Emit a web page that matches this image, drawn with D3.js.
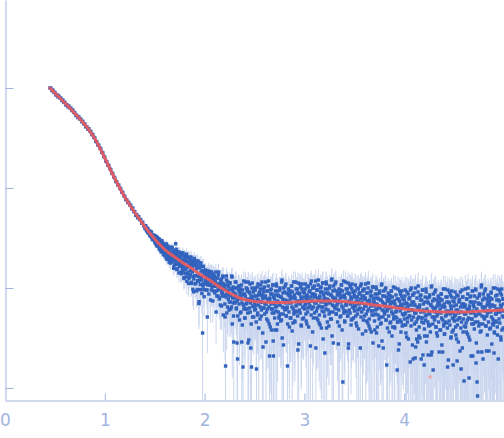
<!DOCTYPE html>
<html><head><meta charset="utf-8">
<script src="https://cdn.jsdelivr.net/npm/d3@7"></script>
<style>html,body{margin:0;padding:0;background:#fff;overflow:hidden}</style>
</head><body><svg id="chart" width="504" height="438"></svg>
<script>
const xTickValues = [0, 1, 2, 3, 4];
const yTickValues = [0, -1, -2, -3];

// scattering vector q (nm^-1), main frame
const q = [
0.45,0.46,0.47,0.48,0.49,0.50,0.51,0.52,0.53,0.54,
0.55,0.56,0.57,0.58,0.59,0.60,0.61,0.62,0.63,0.64,
0.65,0.66,0.67,0.68,0.69,0.70,0.71,0.72,0.73,0.74,
0.75,0.76,0.77,0.78,0.79,0.80,0.81,0.82,0.83,0.84,
0.85,0.86,0.87,0.88,0.89,0.90,0.91,0.92,0.93,0.94,
0.95,0.96,0.97,0.98,0.99,1.00,1.01,1.02,1.03,1.04,
1.05,1.06,1.07,1.08,1.09,1.10,1.11,1.12,1.13,1.14,
1.15,1.16,1.17,1.18,1.19,1.20,1.21,1.22,1.23,1.24,
1.25,1.26,1.27,1.28,1.29,1.30,1.31,1.32,1.33,1.34,
1.35,1.36,1.37,1.38,1.39,
1.400,1.405,1.410,1.415,1.420,1.425,1.430,1.435,1.440,1.445,
1.450,1.455,1.460,1.465,1.470,1.475,1.480,1.485,1.490,1.495,
1.500,1.505,1.510,1.515,1.520,1.525,1.530,1.535,1.540,1.545,
1.550,1.555,1.560,1.565,1.570,1.575,1.580,1.585,1.590,1.595,
1.600,1.605,1.610,1.615,1.620,1.625,1.630,1.635,1.640,1.645,
1.650,1.655,1.660,1.665,1.670,1.675,1.680,1.685,1.690,1.695,
1.700,1.705,1.710,1.715,1.720,1.725,1.730,1.735,1.740,1.745,
1.750,1.755,1.760,1.765,1.770,1.775,1.780,1.785,1.790,1.795,
1.800,1.805,1.810,1.815,1.820,1.825,1.830,1.835,1.840,1.845,
1.850,1.855,1.860,1.865,1.870,1.875,1.880,1.885,1.890,1.895,
1.900,1.905,1.910,1.915,1.920,1.925,1.930,1.935,1.940,1.945,
1.950,1.955,1.960,1.965,1.970,1.975,1.980,1.985,1.990,1.995,
2.000,2.005,2.010,2.015,2.020,2.025,2.030,2.035,2.040,2.045,
2.050,2.055,2.060,2.065,2.070,2.075,2.080,2.085,2.090,2.095,
2.100,2.105,2.110,2.115,2.120,2.125,2.130,2.135,2.140,2.145,
2.150,2.155,2.160,2.165,2.170,2.175,2.180,2.185,2.190,2.195,
2.200,2.205,2.210,2.215,2.220,2.225,2.230,2.235,2.240,2.245,
2.250,2.255,2.260,2.265,2.270,2.275,2.280,2.285,2.290,2.295,
2.300,2.305,2.310,2.315,2.320,2.325,2.330,2.335,2.340,2.345,
2.350,2.355,2.360,2.365,2.370,2.375,2.380,2.385,2.390,2.395,
2.400,2.405,2.410,2.415,2.420,2.425,2.430,2.435,2.440,2.445,
2.450,2.455,2.460,2.465,2.470,2.475,2.480,2.485,2.490,2.495,
2.500,2.505,2.510,2.515,2.520,2.525,2.530,2.535,2.540,2.545,
2.550,2.555,2.560,2.565,2.570,2.575,2.580,2.585,2.590,2.595,
2.600,2.605,2.610,2.615,2.620,2.625,2.630,2.635,2.640,2.645,
2.650,2.655,2.660,2.665,2.670,2.675,2.680,2.685,2.690,2.695,
2.700,2.705,2.710,2.715,2.720,2.725,2.730,2.735,2.740,2.745,
2.750,2.755,2.760,2.765,2.770,2.775,2.780,2.785,2.790,2.795,
2.800,2.805,2.810,2.815,2.820,2.825,2.830,2.835,2.840,2.845,
2.850,2.855,2.860,2.865,2.870,2.875,2.880,2.885,2.890,2.895,
2.900,2.905,2.910,2.915,2.920,2.925,2.930,2.935,2.940,2.945,
2.950,2.955,2.960,2.965,2.970,2.975,2.980,2.985,2.990,2.995,
3.000,3.005,3.010,3.015,3.020,3.025,3.030,3.035,3.040,3.045,
3.050,3.055,3.060,3.065,3.070,3.075,3.080,3.085,3.090,3.095,
3.100,3.105,3.110,3.115,3.120,3.125,3.130,3.135,3.140,3.145,
3.150,3.155,3.160,3.165,3.170,3.175,3.180,3.185,3.190,3.195,
3.200,3.205,3.210,3.215,3.220,3.225,3.230,3.235,3.240,3.245,
3.250,3.255,3.260,3.265,3.270,3.275,3.280,3.285,3.290,3.295,
3.300,3.305,3.310,3.315,3.320,3.325,3.330,3.335,3.340,3.345,
3.350,3.355,3.360,3.365,3.370,3.375,3.380,3.385,3.390,3.395,
3.400,3.405,3.410,3.415,3.420,3.425,3.430,3.435,3.440,3.445,
3.450,3.455,3.460,3.465,3.470,3.475,3.480,3.485,3.490,3.495,
3.500,3.505,3.510,3.515,3.520,3.525,3.530,3.535,3.540,3.545,
3.550,3.555,3.560,3.565,3.570,3.575,3.580,3.585,3.590,3.595,
3.600,3.605,3.610,3.615,3.620,3.625,3.630,3.635,3.640,3.645,
3.650,3.655,3.660,3.665,3.670,3.675,3.680,3.685,3.690,3.695,
3.700,3.705,3.710,3.715,3.720,3.725,3.730,3.735,3.740,3.745,
3.750,3.755,3.760,3.765,3.770,3.775,3.780,3.785,3.790,3.795,
3.800,3.805,3.810,3.815,3.820,3.825,3.830,3.835,3.840,3.845,
3.850,3.855,3.860,3.865,3.870,3.875,3.880,3.885,3.890,3.895,
3.900,3.905,3.910,3.915,3.920,3.925,3.930,3.935,3.940,3.945,
3.950,3.955,3.960,3.965,3.970,3.975,3.980,3.985,3.990,3.995,
4.000,4.005,4.010,4.015,4.020,4.025,4.030,4.035,4.040,4.045,
4.050,4.055,4.060,4.065,4.070,4.075,4.080,4.085,4.090,4.095,
4.100,4.105,4.110,4.115,4.120,4.125,4.130,4.135,4.140,4.145,
4.150,4.155,4.160,4.165,4.170,4.175,4.180,4.185,4.190,4.195,
4.200,4.205,4.210,4.215,4.220,4.225,4.230,4.235,4.240,4.245,
4.250,4.255,4.260,4.265,4.270,4.275,4.280,4.285,4.290,4.295,
4.300,4.305,4.310,4.315,4.320,4.325,4.330,4.335,4.340,4.345,
4.350,4.355,4.360,4.365,4.370,4.375,4.380,4.385,4.390,4.395,
4.400,4.405,4.410,4.415,4.420,4.425,4.430,4.435,4.440,4.445,
4.450,4.455,4.460,4.465,4.470,4.475,4.480,4.485,4.490,4.495,
4.500,4.505,4.510,4.515,4.520,4.525,4.530,4.535,4.540,4.545,
4.550,4.555,4.560,4.565,4.570,4.575,4.580,4.585,4.590,4.595,
4.600,4.605,4.610,4.615,4.620,4.625,4.630,4.635,4.640,4.645,
4.650,4.655,4.660,4.665,4.670,4.675,4.680,4.685,4.690,4.695,
4.700,4.705,4.710,4.715,4.720,4.725,4.730,4.735,4.740,4.745,
4.750,4.755,4.760,4.765,4.770,4.775,4.780,4.785,4.790,4.795,
4.800,4.805,4.810,4.815,4.820,4.825,4.830,4.835,4.840,4.845,
4.850,4.855,4.860,4.865,4.870,4.875,4.880,4.885,4.890,4.895,
4.900,4.905,4.910,4.915,4.920,4.925,4.930,4.935,4.940,4.945,
4.950,4.955,4.960,4.965,4.970,4.975,4.980,4.985,4.990,4.995
];

// log10 of the scattered intensity I(q), main frame
const logI = [
0.000,-0.002,-0.026,-0.020,-0.044,-0.044,-0.070,-0.066,-0.088,-0.080,
-0.100,-0.102,-0.126,-0.120,-0.144,-0.144,-0.170,-0.166,-0.188,-0.180,
-0.200,-0.202,-0.226,-0.220,-0.244,-0.249,-0.276,-0.273,-0.296,-0.289,
-0.310,-0.313,-0.338,-0.333,-0.358,-0.359,-0.388,-0.387,-0.412,-0.407,
-0.430,-0.437,-0.466,-0.465,-0.494,-0.499,-0.534,-0.539,-0.570,-0.571,
-0.600,-0.608,-0.643,-0.648,-0.683,-0.694,-0.731,-0.738,-0.771,-0.774,
-0.805,-0.817,-0.851,-0.855,-0.889,-0.899,-0.934,-0.939,-0.970,-0.971,
-1.000,-1.010,-1.042,-1.044,-1.076,-1.084,-1.116,-1.118,-1.146,-1.144,
-1.170,-1.173,-1.209,-1.200,-1.236,-1.236,-1.274,-1.267,-1.299,-1.286,
-1.315,-1.317,-1.352,-1.342,-1.377,
-1.375,-1.407,-1.378,-1.405,-1.421,-1.403,-1.444,-1.426,-1.427,-1.454,
-1.470,-1.446,-1.437,-1.478,-1.469,-1.510,-1.471,-1.492,-1.513,-1.474,
-1.480,-1.536,-1.521,-1.567,-1.512,-1.493,-1.553,-1.579,-1.539,-1.610,
-1.595,-1.530,-1.565,-1.640,-1.565,-1.610,-1.545,-1.600,-1.645,-1.580,
-1.565,-1.659,-1.603,-1.697,-1.631,-1.605,-1.689,-1.583,-1.667,-1.741,
-1.685,-1.599,-1.742,-1.646,-1.679,-1.603,-1.726,-1.650,-1.803,-1.677,
-1.650,-1.764,-1.557,-1.731,-1.654,-1.808,-1.691,-1.765,-1.638,-1.742,
-1.785,-1.699,-1.842,-1.666,-1.739,-1.783,-1.656,-1.830,-1.733,-1.897,
-1.680,-1.813,-1.736,-1.889,-1.672,-1.795,-1.858,-1.731,-1.954,-1.767,
-1.890,-1.724,-1.827,-1.691,-1.954,-1.788,-1.751,-1.885,-2.038,-1.732,
-1.775,-1.959,-1.732,-1.876,-2.029,-1.763,-1.926,-1.730,-1.883,-2.137,
-1.920,-1.753,-2.016,-1.829,-1.892,-1.785,-2.450,-1.981,-1.824,-2.087,
-1.86,-1.92,-1.82,-1.96,-1.89,-2.02,-1.87,-1.94,-1.83,-1.91,
-1.97,-1.88,-2.12,-1.92,-1.84,-1.99,-1.94,-1.87,-2.03,-1.91,
-1.88,-1.98,-1.94,-2.24,-2.03,-1.90,-1.96,-2.08,-1.84,-2.00,
-2.10,-1.97,-1.92,-2.02,-2.18,-1.95,-2.05,-1.89,-1.99,-2.08,
-2.01,-2.29,-2.78,-2.09,-1.92,-2.06,-2.19,-1.98,-2.03,-2.22,
-2.07,-1.95,-2.14,-2.01,-2.19,-1.89,-2.10,-1.99,-2.28,-2.05,
-2.00,-2.15,-2.09,-1.94,-2.20,-2.55,-2.71,-2.11,-1.98,-2.16,
-2.32,-2.04,-2.08,-2.24,-1.97,-2.15,-2.02,-2.79,-2.07,-2.21,
-2.06,-2.30,-1.94,-2.16,-2.11,-2.21,-2.01,-2.55,-2.13,-2.04,
-2.20,-1.96,-2.15,-2.08,-2.79,-2.00,-2.29,-2.12,-2.04,-2.19,
-2.15,-2.00,-2.21,-2.08,-2.81,-2.12,-2.27,-1.96,-2.17,-2.06,
-2.07,-2.31,-2.01,-2.14,-2.22,-1.94,-2.10,-2.59,-2.04,-2.20,
-1.99,-2.16,-2.08,-2.54,-2.24,-2.03,-2.11,-2.33,-1.93,-2.19,
-2.68,-2.10,-2.02,-2.16,-2.42,-2.06,-2.21,-1.97,-2.68,-2.25,
-2.11,-2.42,-2.03,-2.23,-1.98,-2.18,-2.36,-2.07,-2.14,-2.30,
-2.16,-2.00,-2.26,-2.09,-2.32,-1.92,-2.19,-2.05,-2.57,-2.13,
-2.04,-2.22,-2.15,-1.96,-2.28,-2.21,-2.78,-2.13,-2.01,-2.24,
-2.39,-2.06,-2.11,-2.30,-1.98,-2.19,-2.04,-2.35,-2.10,-2.26,
-2.07,-2.34,-1.94,-2.18,-2.13,-2.24,-2.01,-2.62,-2.15,-2.05,
-2.22,-1.96,-2.16,-2.09,-2.38,-2.01,-2.31,-2.13,-2.04,-2.20,
-2.05,-2.17,-1.96,-2.26,-2.11,-2.36,-2.08,-2.20,-1.99,-2.15,
-2.19,-2.03,-2.58,-2.09,-1.93,-2.21,-2.13,-2.00,-2.30,-2.06,
-1.98,-2.15,-2.07,-2.60,-2.23,-2.02,-2.10,-2.32,-1.92,-2.18,
-2.27,-2.08,-2.00,-2.14,-2.40,-2.04,-2.19,-1.95,-2.12,-2.24,
-2.10,-2.65,-2.01,-2.21,-1.96,-2.16,-2.34,-2.05,-2.12,-2.38,
-2.14,-1.98,-2.24,-2.07,-2.31,-1.91,-2.17,-2.03,-2.55,-2.11,
-2.02,-2.20,-2.13,-1.94,-2.26,-2.21,-2.07,-2.15,-2.56,-2.22,
-2.38,-2.05,-2.10,-2.28,-1.97,-2.18,-2.03,-2.94,-2.09,-2.25,
-2.07,-2.34,-1.94,-2.17,-2.15,-2.24,-2.01,-2.28,-2.60,-2.05,
-2.22,-1.97,-2.16,-2.09,-2.32,-2.01,-2.31,-2.15,-2.04,-2.20,
-2.07,-2.18,-1.97,-2.28,-2.13,-2.38,-2.09,-2.22,-2.01,-2.16,
-2.21,-2.05,-2.60,-2.11,-1.96,-2.24,-2.15,-2.03,-2.32,-2.08,
-2.01,-2.18,-2.10,-2.43,-2.26,-2.05,-2.13,-2.35,-1.95,-2.21,
-2.31,-2.12,-2.04,-2.18,-2.44,-2.08,-2.23,-1.99,-2.15,-2.27,
-2.14,-2.42,-2.06,-2.26,-2.01,-2.21,-2.39,-2.10,-2.19,-2.58,
-2.19,-2.03,-2.29,-2.12,-2.35,-1.96,-2.22,-2.08,-2.60,-2.16,
-2.08,-2.26,-2.19,-2.00,-2.32,-2.77,-2.13,-2.21,-2.05,-2.28,
-2.44,-2.11,-2.16,-2.34,-2.03,-2.24,-2.09,-2.39,-2.15,-2.31,
-2.13,-2.40,-2.00,-2.24,-2.19,-2.30,-2.82,-2.34,-2.19,-2.11,
-2.56,-2.03,-2.23,-2.16,-2.34,-2.08,-2.38,-2.20,-2.11,-2.27,
-2.12,-2.26,-2.02,-2.37,-2.20,-2.49,-2.16,-2.30,-2.06,-2.23,
-2.28,-2.10,-2.74,-2.17,-2.00,-2.32,-2.22,-2.07,-2.71,-2.14,
-2.05,-2.25,-2.70,-2.59,-2.34,-2.51,-2.19,-2.54,-1.98,-2.29,
-2.39,-2.17,-2.08,-2.24,-2.71,-2.12,-2.30,-2.02,-2.22,-2.35,
-2.77,-2.48,-2.09,-2.32,-2.04,-2.27,-2.48,-2.14,-2.67,-2.37,
-2.25,-2.07,-2.37,-2.17,-2.67,-1.98,-2.29,-2.13,-2.82,-2.22,
-2.11,-2.32,-2.24,-2.02,-2.39,-2.45,-2.18,-2.26,-2.08,-2.34,
-2.64,-2.14,-2.21,-2.42,-2.06,-2.30,-2.12,-2.64,-2.19,-2.38,
-2.16,-2.46,-2.01,-2.28,-2.23,-2.35,-2.09,-2.79,-2.25,-2.14,
-2.33,-2.04,-2.26,-2.18,-2.49,-2.09,-2.44,-2.25,-2.77,-2.31,
-2.14,-2.28,-2.04,-2.39,-2.22,-2.51,-2.73,-2.32,-2.08,-2.25,
-2.30,-2.12,-2.63,-2.19,-2.81,-2.34,-2.02,-2.09,-2.44,-2.16,
-2.93,-2.26,-2.17,-2.39,-2.35,-2.11,-2.21,-2.46,-2.00,-2.30,
-2.90,-2.18,-2.09,-2.25,-2.68,-2.14,-2.31,-2.03,-2.23,-2.36,
-2.19,-2.08,-2.34,-2.01,-2.75,-2.27,-2.94,-3.08,-2.64,-2.16,
-2.25,-2.06,-2.36,-2.16,-2.43,-1.97,-2.28,-2.12,-2.71,-2.21,
-2.10,-2.31,-2.23,-2.01,-2.38,-2.63,-2.17,-2.25,-2.07,-2.34,
-2.63,-2.13,-2.19,-2.40,-2.05,-2.29,-2.11,-2.36,-2.18,-2.37,
-2.65,-2.45,-2.00,-2.26,-2.21,-2.34,-2.07,-2.47,-2.24,-2.12,
-2.31,-2.02,-2.24,-2.17,-2.52,-2.07,-2.42,-2.23,-2.11,-2.29
];

// experimental error sigma(I), in units of 1e-3, main frame
const sigma = [
2.0,2.1,2.0,1.9,2.0,2.1,1.9,2.0,2.0,1.9,
1.9,2.0,1.9,1.8,1.9,2.0,1.8,1.9,1.9,1.8,
1.8,1.9,1.8,1.7,1.8,1.9,1.7,1.8,1.8,1.7,
1.7,1.8,1.7,1.6,1.7,1.8,1.6,1.7,1.7,1.6,
1.6,1.7,1.6,1.5,1.6,1.7,1.5,1.6,1.6,1.5,
1.5,1.6,1.5,1.4,1.5,1.6,1.4,1.5,1.5,1.4,
1.4,1.5,1.4,1.3,1.4,1.5,1.3,1.4,1.4,1.3,
1.3,1.4,1.3,1.2,1.3,1.4,1.2,1.3,1.3,1.2,
1.2,1.3,1.2,1.1,1.2,1.3,1.1,1.2,1.2,1.1,
1.2,1.3,1.2,1.1,1.2,
1.3,1.4,1.3,1.4,1.5,1.4,1.5,1.4,1.5,1.6,
1.5,1.6,1.5,1.7,1.6,1.7,1.6,1.8,1.7,1.8,
1.7,1.8,1.9,1.8,1.9,2.0,1.9,2.0,1.9,2.1,
2.0,2.1,2.0,2.2,2.1,2.2,2.1,2.3,2.2,2.3,
2.2,2.3,2.4,2.3,2.4,2.3,2.5,2.4,2.5,2.4,
2.5,2.4,2.6,2.5,2.6,2.5,2.7,2.6,2.5,2.7,
2.6,2.7,2.6,2.8,2.7,2.6,2.8,2.7,2.9,2.8,
2.7,2.8,2.9,2.8,2.7,2.9,2.8,3.0,2.9,2.8,
2.9,2.8,3.0,2.9,2.8,3.0,2.9,3.1,3.0,2.9,
3.0,2.9,3.1,3.0,2.9,3.1,3.0,2.9,3.1,3.0,
3.1,3.0,2.9,3.1,3.0,3.2,3.1,3.0,3.2,3.1,
3.0,3.2,3.1,3.0,3.2,3.1,3.3,3.2,3.1,3.0,
2.9,3.1,2.8,3.0,2.7,3.2,2.9,2.8,3.1,2.7,
3.0,2.7,3.1,2.9,2.8,3.0,2.6,3.1,2.9,3.0,
2.9,3.1,2.8,3.0,2.7,3.2,2.9,2.8,3.1,2.7,
3.0,2.7,3.1,2.9,2.8,3.0,2.6,3.1,2.9,3.0,
3.0,3.2,2.9,3.1,2.8,3.3,3.0,2.9,3.2,2.8,
3.1,2.8,3.2,3.0,2.9,3.1,2.7,3.2,3.0,3.1,
3.0,3.2,2.9,3.1,2.8,3.3,3.0,2.9,3.2,2.8,
3.1,2.8,3.2,3.0,2.9,3.1,2.7,3.2,3.0,3.1,
3.1,3.3,3.0,3.2,2.9,3.4,3.1,3.0,3.3,2.9,
3.2,2.9,3.3,3.1,3.0,3.2,2.8,3.3,3.1,3.2,
3.2,3.4,3.1,3.3,3.0,3.5,3.2,3.1,3.4,3.0,
3.3,3.0,3.4,3.2,3.1,3.3,2.9,3.4,3.2,3.3,
3.2,3.4,3.1,3.3,3.0,3.5,3.2,3.1,3.4,3.0,
3.3,3.0,3.4,3.2,3.1,3.3,2.9,3.4,3.2,3.3,
3.2,3.4,3.1,3.3,3.0,3.5,3.2,3.1,3.4,3.0,
3.3,3.0,3.4,3.2,3.1,3.3,2.9,3.4,3.2,3.3,
3.2,3.4,3.1,3.3,3.0,3.5,3.2,3.1,3.4,3.0,
3.3,3.0,3.4,3.2,3.1,3.3,2.9,3.4,3.2,3.3,
3.2,3.4,3.1,3.3,3.0,3.5,3.2,3.1,3.4,3.0,
3.3,3.0,3.4,3.2,3.1,3.3,2.9,3.4,3.2,3.3,
3.3,3.5,3.2,3.4,3.1,3.6,3.3,3.2,3.5,3.1,
3.4,3.1,3.5,3.3,3.2,3.4,3.0,3.5,3.3,3.4,
3.3,3.5,3.2,3.4,3.1,3.6,3.3,3.2,3.5,3.1,
3.4,3.1,3.5,3.3,3.2,3.4,3.0,3.5,3.3,3.4,
3.3,3.5,3.2,3.4,3.1,3.6,3.3,3.2,3.5,3.1,
3.4,3.1,3.5,3.3,3.2,3.4,3.0,3.5,3.3,3.4,
3.3,3.5,3.2,3.4,3.1,3.6,3.3,3.2,3.5,3.1,
3.4,3.1,3.5,3.3,3.2,3.4,3.0,3.5,3.3,3.4,
3.3,3.5,3.2,3.4,3.1,3.6,3.3,3.2,3.5,3.1,
3.4,3.1,3.5,3.3,3.2,3.4,3.0,3.5,3.3,3.4,
3.4,3.6,3.3,3.5,3.2,3.7,3.4,3.3,3.6,3.2,
3.5,3.2,3.6,3.4,3.3,3.5,3.1,3.6,3.4,3.5,
3.4,3.6,3.3,3.5,3.2,3.7,3.4,3.3,3.6,3.2,
3.5,3.2,3.6,3.4,3.3,3.5,3.1,3.6,3.4,3.5,
3.4,3.6,3.3,3.5,3.2,3.7,3.4,3.3,3.6,3.2,
3.5,3.2,3.6,3.4,3.3,3.5,3.1,3.6,3.4,3.5,
3.4,3.6,3.3,3.5,3.2,3.7,3.4,3.3,3.6,3.2,
3.5,3.2,3.6,3.4,3.3,3.5,3.1,3.6,3.4,3.5,
3.4,3.6,3.3,3.5,3.2,3.7,3.4,3.3,3.6,3.2,
3.5,3.2,3.6,3.4,3.3,3.5,3.1,3.6,3.4,3.5,
3.6,3.8,3.5,3.7,3.4,3.9,3.6,3.5,3.8,3.4,
3.7,3.4,3.8,3.6,3.5,3.7,3.3,3.8,3.6,3.7,
3.6,3.8,3.5,3.7,3.4,3.9,3.6,3.5,3.8,3.4,
3.7,3.4,3.8,3.6,3.5,3.7,3.3,3.8,3.6,3.7,
3.6,3.8,3.5,3.7,3.4,3.9,3.6,3.5,3.8,3.4,
3.7,3.4,3.8,3.6,3.5,3.7,3.3,3.8,3.6,3.7,
3.6,3.8,3.5,3.7,3.4,3.9,3.6,3.5,3.8,3.4,
3.7,3.4,3.8,3.6,3.5,3.7,3.3,3.8,3.6,3.7,
3.6,3.8,3.5,3.7,3.4,3.9,3.6,3.5,3.8,3.4,
3.7,3.4,3.8,3.6,3.5,3.7,3.3,3.8,3.6,3.7,
3.8,4.0,3.7,3.9,3.6,4.1,3.8,3.7,4.0,3.6,
3.9,3.6,4.0,3.8,3.7,3.9,3.5,4.0,3.8,3.9,
3.8,4.0,3.7,3.9,3.6,4.1,3.8,3.7,4.0,3.6,
3.9,3.6,4.0,3.8,3.7,3.9,3.5,4.0,3.8,3.9,
3.8,4.0,3.7,3.9,3.6,4.1,3.8,3.7,4.0,3.6,
3.9,3.6,4.0,3.8,3.7,3.9,3.5,4.0,3.8,3.9,
3.8,4.0,3.7,3.9,3.6,4.1,3.8,3.7,4.0,3.6,
3.9,3.6,4.0,3.8,3.7,3.9,3.5,4.0,3.8,3.9,
3.8,4.0,3.7,3.9,3.6,4.1,3.8,3.7,4.0,3.6,
3.9,3.6,4.0,3.8,3.7,3.9,3.5,4.0,3.8,3.9
];

// interleaved frame (q between the main-frame samples, q >= 1.4)
const q2 = [
1.4025,1.4075,1.4125,1.4175,1.4225,1.4275,1.4325,1.4375,1.4425,1.4475,
1.4525,1.4575,1.4625,1.4675,1.4725,1.4775,1.4825,1.4875,1.4925,1.4975,
1.5025,1.5075,1.5125,1.5175,1.5225,1.5275,1.5325,1.5375,1.5425,1.5475,
1.5525,1.5575,1.5625,1.5675,1.5725,1.5775,1.5825,1.5875,1.5925,1.5975,
1.6025,1.6075,1.6125,1.6175,1.6225,1.6275,1.6325,1.6375,1.6425,1.6475,
1.6525,1.6575,1.6625,1.6675,1.6725,1.6775,1.6825,1.6875,1.6925,1.6975,
1.7025,1.7075,1.7125,1.7175,1.7225,1.7275,1.7325,1.7375,1.7425,1.7475,
1.7525,1.7575,1.7625,1.7675,1.7725,1.7775,1.7825,1.7875,1.7925,1.7975,
1.8025,1.8075,1.8125,1.8175,1.8225,1.8275,1.8325,1.8375,1.8425,1.8475,
1.8525,1.8575,1.8625,1.8675,1.8725,1.8775,1.8825,1.8875,1.8925,1.8975,
1.9025,1.9075,1.9125,1.9175,1.9225,1.9275,1.9325,1.9375,1.9425,1.9475,
1.9525,1.9575,1.9625,1.9675,1.9725,1.9775,1.9825,1.9875,1.9925,1.9975,
2.0025,2.0075,2.0125,2.0175,2.0225,2.0275,2.0325,2.0375,2.0425,2.0475,
2.0525,2.0575,2.0625,2.0675,2.0725,2.0775,2.0825,2.0875,2.0925,2.0975,
2.1025,2.1075,2.1125,2.1175,2.1225,2.1275,2.1325,2.1375,2.1425,2.1475,
2.1525,2.1575,2.1625,2.1675,2.1725,2.1775,2.1825,2.1875,2.1925,2.1975,
2.2025,2.2075,2.2125,2.2175,2.2225,2.2275,2.2325,2.2375,2.2425,2.2475,
2.2525,2.2575,2.2625,2.2675,2.2725,2.2775,2.2825,2.2875,2.2925,2.2975,
2.3025,2.3075,2.3125,2.3175,2.3225,2.3275,2.3325,2.3375,2.3425,2.3475,
2.3525,2.3575,2.3625,2.3675,2.3725,2.3775,2.3825,2.3875,2.3925,2.3975,
2.4025,2.4075,2.4125,2.4175,2.4225,2.4275,2.4325,2.4375,2.4425,2.4475,
2.4525,2.4575,2.4625,2.4675,2.4725,2.4775,2.4825,2.4875,2.4925,2.4975,
2.5025,2.5075,2.5125,2.5175,2.5225,2.5275,2.5325,2.5375,2.5425,2.5475,
2.5525,2.5575,2.5625,2.5675,2.5725,2.5775,2.5825,2.5875,2.5925,2.5975,
2.6025,2.6075,2.6125,2.6175,2.6225,2.6275,2.6325,2.6375,2.6425,2.6475,
2.6525,2.6575,2.6625,2.6675,2.6725,2.6775,2.6825,2.6875,2.6925,2.6975,
2.7025,2.7075,2.7125,2.7175,2.7225,2.7275,2.7325,2.7375,2.7425,2.7475,
2.7525,2.7575,2.7625,2.7675,2.7725,2.7775,2.7825,2.7875,2.7925,2.7975,
2.8025,2.8075,2.8125,2.8175,2.8225,2.8275,2.8325,2.8375,2.8425,2.8475,
2.8525,2.8575,2.8625,2.8675,2.8725,2.8775,2.8825,2.8875,2.8925,2.8975,
2.9025,2.9075,2.9125,2.9175,2.9225,2.9275,2.9325,2.9375,2.9425,2.9475,
2.9525,2.9575,2.9625,2.9675,2.9725,2.9775,2.9825,2.9875,2.9925,2.9975,
3.0025,3.0075,3.0125,3.0175,3.0225,3.0275,3.0325,3.0375,3.0425,3.0475,
3.0525,3.0575,3.0625,3.0675,3.0725,3.0775,3.0825,3.0875,3.0925,3.0975,
3.1025,3.1075,3.1125,3.1175,3.1225,3.1275,3.1325,3.1375,3.1425,3.1475,
3.1525,3.1575,3.1625,3.1675,3.1725,3.1775,3.1825,3.1875,3.1925,3.1975,
3.2025,3.2075,3.2125,3.2175,3.2225,3.2275,3.2325,3.2375,3.2425,3.2475,
3.2525,3.2575,3.2625,3.2675,3.2725,3.2775,3.2825,3.2875,3.2925,3.2975,
3.3025,3.3075,3.3125,3.3175,3.3225,3.3275,3.3325,3.3375,3.3425,3.3475,
3.3525,3.3575,3.3625,3.3675,3.3725,3.3775,3.3825,3.3875,3.3925,3.3975,
3.4025,3.4075,3.4125,3.4175,3.4225,3.4275,3.4325,3.4375,3.4425,3.4475,
3.4525,3.4575,3.4625,3.4675,3.4725,3.4775,3.4825,3.4875,3.4925,3.4975,
3.5025,3.5075,3.5125,3.5175,3.5225,3.5275,3.5325,3.5375,3.5425,3.5475,
3.5525,3.5575,3.5625,3.5675,3.5725,3.5775,3.5825,3.5875,3.5925,3.5975,
3.6025,3.6075,3.6125,3.6175,3.6225,3.6275,3.6325,3.6375,3.6425,3.6475,
3.6525,3.6575,3.6625,3.6675,3.6725,3.6775,3.6825,3.6875,3.6925,3.6975,
3.7025,3.7075,3.7125,3.7175,3.7225,3.7275,3.7325,3.7375,3.7425,3.7475,
3.7525,3.7575,3.7625,3.7675,3.7725,3.7775,3.7825,3.7875,3.7925,3.7975,
3.8025,3.8075,3.8125,3.8175,3.8225,3.8275,3.8325,3.8375,3.8425,3.8475,
3.8525,3.8575,3.8625,3.8675,3.8725,3.8775,3.8825,3.8875,3.8925,3.8975,
3.9025,3.9075,3.9125,3.9175,3.9225,3.9275,3.9325,3.9375,3.9425,3.9475,
3.9525,3.9575,3.9625,3.9675,3.9725,3.9775,3.9825,3.9875,3.9925,3.9975,
4.0025,4.0075,4.0125,4.0175,4.0225,4.0275,4.0325,4.0375,4.0425,4.0475,
4.0525,4.0575,4.0625,4.0675,4.0725,4.0775,4.0825,4.0875,4.0925,4.0975,
4.1025,4.1075,4.1125,4.1175,4.1225,4.1275,4.1325,4.1375,4.1425,4.1475,
4.1525,4.1575,4.1625,4.1675,4.1725,4.1775,4.1825,4.1875,4.1925,4.1975,
4.2025,4.2075,4.2125,4.2175,4.2225,4.2275,4.2325,4.2375,4.2425,4.2475,
4.2525,4.2575,4.2625,4.2675,4.2725,4.2775,4.2825,4.2875,4.2925,4.2975,
4.3025,4.3075,4.3125,4.3175,4.3225,4.3275,4.3325,4.3375,4.3425,4.3475,
4.3525,4.3575,4.3625,4.3675,4.3725,4.3775,4.3825,4.3875,4.3925,4.3975,
4.4025,4.4075,4.4125,4.4175,4.4225,4.4275,4.4325,4.4375,4.4425,4.4475,
4.4525,4.4575,4.4625,4.4675,4.4725,4.4775,4.4825,4.4875,4.4925,4.4975,
4.5025,4.5075,4.5125,4.5175,4.5225,4.5275,4.5325,4.5375,4.5425,4.5475,
4.5525,4.5575,4.5625,4.5675,4.5725,4.5775,4.5825,4.5875,4.5925,4.5975,
4.6025,4.6075,4.6125,4.6175,4.6225,4.6275,4.6325,4.6375,4.6425,4.6475,
4.6525,4.6575,4.6625,4.6675,4.6725,4.6775,4.6825,4.6875,4.6925,4.6975,
4.7025,4.7075,4.7125,4.7175,4.7225,4.7275,4.7325,4.7375,4.7425,4.7475,
4.7525,4.7575,4.7625,4.7675,4.7725,4.7775,4.7825,4.7875,4.7925,4.7975,
4.8025,4.8075,4.8125,4.8175,4.8225,4.8275,4.8325,4.8375,4.8425,4.8475,
4.8525,4.8575,4.8625,4.8675,4.8725,4.8775,4.8825,4.8875,4.8925,4.8975,
4.9025,4.9075,4.9125,4.9175,4.9225,4.9275,4.9325,4.9375,4.9425,4.9475,
4.9525,4.9575,4.9625,4.9675,4.9725,4.9775,4.9825,4.9875,4.9925,4.9975
];

const logI2 = [
-1.399,-1.380,-1.402,-1.428,-1.405,-1.426,-1.408,-1.449,-1.436,-1.457,
-1.433,-1.484,-1.455,-1.441,-1.492,-1.483,-1.519,-1.475,-1.511,-1.482,
-1.548,-1.498,-1.484,-1.544,-1.580,-1.510,-1.546,-1.576,-1.507,-1.582,
-1.522,-1.622,-1.557,-1.592,-1.527,-1.627,-1.587,-1.667,-1.577,-1.632,
-1.677,-1.581,-1.645,-1.559,-1.713,-1.627,-1.591,-1.685,-1.619,-1.713,
-1.607,-1.751,-1.644,-1.708,-1.591,-1.735,-1.668,-1.622,-1.785,-1.709,
-1.762,-1.636,-1.719,-1.613,-1.816,-1.680,-1.763,-1.647,-1.850,-1.704,
-1.647,-1.771,-1.684,-1.858,-1.721,-1.815,-1.648,-1.772,-1.905,-1.699,
-1.852,-1.705,-1.798,-1.661,-1.934,-1.737,-1.840,-1.693,-1.906,-1.779,
-1.692,-1.866,-1.759,-1.943,-1.726,-1.840,-2.013,-1.757,-1.910,-1.704,
-1.877,-1.741,-1.954,-1.808,-1.731,-2.015,-1.798,-1.932,-2.155,-1.789,
-1.792,-1.965,-1.748,-1.921,-2.054,-1.837,-1.960,-1.783,-2.016,-1.859,
-1.95,-1.83,-1.92,-2.02,-1.86,-2.29,-1.97,-1.89,-2.06,-1.85,
-1.88,-1.97,-1.84,-2.02,-1.94,-1.90,-2.13,-1.86,-1.98,-1.92,
-2.05,-1.94,-1.84,-1.98,-2.08,-1.90,-2.02,-1.87,-1.96,-2.11,
-1.98,-2.17,-1.94,-1.91,-2.05,-2.08,-1.88,-2.27,-1.96,-2.01,
-2.16,-1.97,-2.07,-1.88,-2.25,-2.02,-1.94,-2.11,-1.98,-2.14,
-1.95,-2.08,-2.21,-2.01,-1.88,-2.36,-2.03,-2.15,-2.54,-2.10,
-2.14,-1.94,-2.06,-2.21,-2.00,-2.13,-2.28,-2.02,-2.09,-1.98,
-2.05,-2.25,-2.01,-2.11,-2.54,-2.37,-2.06,-2.17,-1.93,-2.20,
-2.30,-2.08,-2.21,-2.00,-2.15,-2.03,-2.25,-1.94,-2.52,-2.11,
-2.05,-2.24,-2.60,-2.36,-2.10,-1.95,-2.18,-2.03,-2.29,-2.08,
-2.22,-2.02,-2.17,-2.34,-2.08,-1.99,-2.25,-2.12,-2.40,-2.05,
-2.04,-2.19,-1.97,-2.28,-2.14,-2.07,-2.45,-2.01,-2.20,-2.10,
-2.26,-2.09,-1.94,-2.16,-2.31,-2.03,-2.21,-1.98,-2.13,-2.36,
-2.12,-2.39,-2.06,-2.01,-2.21,-2.25,-1.97,-2.53,-2.09,-2.16,
-2.30,-2.07,-2.19,-1.96,-2.42,-2.13,-2.03,-2.24,-2.08,-2.28,
-2.02,-2.17,-2.33,-2.09,-1.94,-2.50,-2.11,-2.26,-2.00,-2.20,
-2.21,-1.98,-2.12,-2.28,-2.05,-2.19,-2.36,-2.07,-2.15,-2.03,
-2.08,-2.30,-2.03,-2.15,-1.98,-2.43,-2.09,-2.21,-1.94,-2.24,
-2.33,-2.10,-2.23,-2.01,-2.17,-2.05,-2.28,-1.95,-2.56,-2.13,
-2.06,-2.25,-1.99,-2.37,-2.11,-1.96,-2.19,-2.04,-2.30,-2.09,
-2.21,-2.01,-2.16,-2.33,-2.07,-1.98,-2.24,-2.11,-2.39,-2.04,
-2.03,-2.18,-1.96,-2.27,-2.13,-2.06,-2.44,-2.00,-2.19,-2.09,
-2.25,-2.08,-1.93,-2.15,-2.30,-2.02,-2.20,-1.97,-2.12,-2.35,
-2.10,-2.37,-2.04,-1.99,-2.19,-2.23,-1.95,-2.51,-2.07,-2.14,
-2.28,-2.05,-2.17,-1.94,-2.40,-2.11,-2.01,-2.22,-2.06,-2.26,
-2.00,-2.15,-2.31,-2.07,-1.92,-2.48,-2.09,-2.24,-1.98,-2.18,
-2.19,-1.96,-2.10,-2.26,-2.03,-2.17,-2.34,-2.05,-2.13,-2.01,
-2.07,-2.29,-2.02,-2.14,-1.97,-2.42,-2.08,-2.20,-1.93,-2.23,
-2.33,-2.10,-2.23,-2.01,-2.17,-2.05,-2.28,-1.95,-2.56,-2.13,
-2.06,-2.25,-1.99,-2.37,-2.11,-1.96,-2.19,-2.04,-2.30,-2.09,
-2.23,-2.03,-2.18,-2.35,-2.09,-2.00,-2.26,-2.13,-2.41,-2.06,
-2.05,-2.20,-1.98,-2.29,-2.15,-2.08,-2.46,-2.02,-2.21,-2.11,
-2.28,-2.11,-1.96,-2.18,-2.33,-2.05,-2.23,-2.00,-2.15,-2.38,
-2.14,-2.41,-2.08,-2.03,-2.23,-2.27,-1.99,-2.55,-2.11,-2.18,
-2.33,-2.10,-2.22,-1.99,-2.45,-2.16,-2.06,-2.27,-2.11,-2.31,
-2.05,-2.20,-2.36,-2.12,-1.97,-2.53,-2.14,-2.29,-2.03,-2.23,
-2.25,-2.02,-2.16,-2.32,-2.09,-2.23,-2.40,-2.11,-2.19,-2.07,
-2.13,-2.35,-2.08,-2.20,-2.03,-2.48,-2.14,-2.26,-1.99,-2.29,
-2.39,-2.16,-2.29,-2.07,-2.23,-2.11,-2.34,-2.01,-2.62,-2.19,
-2.13,-2.32,-2.06,-2.44,-2.18,-2.03,-2.26,-2.11,-2.37,-2.16,
-2.31,-2.08,-2.25,-2.45,-2.15,-2.04,-2.34,-2.19,-2.51,-2.11,
-2.10,-2.28,-2.02,-2.38,-2.22,-2.14,-2.57,-2.07,-2.29,-2.17,
-2.36,-2.17,-2.00,-2.25,-2.42,-2.10,-2.31,-2.04,-2.21,-2.48,
-2.19,-2.50,-2.12,-2.07,-2.30,-2.34,-2.02,-2.67,-2.16,-2.24,
-2.41,-2.14,-2.28,-2.01,-2.54,-2.21,-2.10,-2.34,-2.15,-2.38,
-2.09,-2.26,-2.44,-2.17,-1.99,-2.64,-2.19,-2.36,-2.06,-2.29,
-2.31,-2.04,-2.20,-2.39,-2.12,-2.28,-2.48,-2.15,-2.24,-2.10,
-2.17,-2.42,-2.11,-2.25,-2.06,-2.57,-2.18,-2.32,-2.01,-2.36,
-2.46,-2.19,-2.34,-2.09,-2.27,-2.14,-2.40,-2.02,-2.72,-2.23,
-2.15,-2.37,-2.07,-2.50,-2.21,-2.03,-2.30,-2.13,-2.42,-2.18,
-2.33,-2.10,-2.27,-2.47,-2.17,-2.07,-2.37,-2.22,-2.54,-2.14,
-2.12,-2.30,-2.04,-2.40,-2.24,-2.16,-2.60,-2.09,-2.31,-2.19,
-2.38,-2.18,-2.01,-2.26,-2.44,-2.11,-2.32,-2.06,-2.23,-2.49,
-2.21,-2.52,-2.14,-2.08,-2.31,-2.36,-2.03,-2.68,-2.17,-2.25,
-2.41,-2.14,-2.28,-2.02,-2.55,-2.21,-2.10,-2.34,-2.15,-2.38,
-2.08,-2.26,-2.44,-2.16,-1.99,-2.64,-2.19,-2.36,-2.06,-2.29,
-2.30,-2.03,-2.19,-2.38,-2.11,-2.28,-2.47,-2.14,-2.23,-2.09,
-2.16,-2.41,-2.10,-2.24,-2.04,-2.56,-2.17,-2.31,-2.00,-2.34,
-2.44,-2.18,-2.33,-2.08,-2.26,-2.12,-2.39,-2.01,-2.71,-2.21,
-2.13,-2.35,-2.05,-2.49,-2.19,-2.01,-2.28,-2.11,-2.40,-2.16
];

const sigma2 = [
1.4,1.3,1.5,1.4,1.4,1.5,1.4,1.6,1.5,1.5,
1.6,1.5,1.7,1.6,1.6,1.7,1.7,1.8,1.7,1.8,
1.8,1.9,1.8,1.9,2.0,1.9,2.0,2.0,2.1,2.0,
2.1,2.0,2.2,2.1,2.2,2.2,2.3,2.2,2.3,2.2,
2.3,2.4,2.3,2.4,2.4,2.5,2.4,2.5,2.4,2.5,
2.5,2.6,2.5,2.6,2.6,2.7,2.5,2.6,2.7,2.6,
2.7,2.6,2.7,2.8,2.7,2.8,2.7,2.8,2.8,2.9,
2.8,2.9,2.8,2.7,2.9,2.8,2.9,3.0,2.9,2.8,
2.8,2.9,3.0,2.9,3.0,2.9,3.0,3.1,2.9,3.0,
3.0,3.1,2.9,3.0,3.1,3.0,3.1,3.0,2.9,3.1,
3.0,3.1,3.0,3.2,3.1,3.0,3.1,3.2,3.1,3.0,
3.1,3.2,3.0,3.1,3.2,3.1,3.0,3.2,3.1,3.2,
2.8,3.0,2.9,2.7,3.1,2.9,3.0,2.8,3.2,2.9,
3.1,2.9,2.8,3.0,2.6,3.0,2.9,3.1,2.8,2.9,
2.8,3.0,2.9,2.7,3.1,2.9,3.0,2.8,3.2,2.9,
3.1,2.9,2.8,3.0,2.6,3.0,2.9,3.1,2.8,2.9,
2.9,3.1,3.0,2.8,3.2,3.0,3.1,2.9,3.3,3.0,
3.2,3.0,2.9,3.1,2.7,3.1,3.0,3.2,2.9,3.0,
2.9,3.1,3.0,2.8,3.2,3.0,3.1,2.9,3.3,3.0,
3.2,3.0,2.9,3.1,2.7,3.1,3.0,3.2,2.9,3.0,
3.0,3.2,3.1,2.9,3.3,3.1,3.2,3.0,3.4,3.1,
3.3,3.1,3.0,3.2,2.8,3.2,3.1,3.3,3.0,3.1,
3.1,3.3,3.2,3.0,3.4,3.2,3.3,3.1,3.5,3.2,
3.4,3.2,3.1,3.3,2.9,3.3,3.2,3.4,3.1,3.2,
3.1,3.3,3.2,3.0,3.4,3.2,3.3,3.1,3.5,3.2,
3.4,3.2,3.1,3.3,2.9,3.3,3.2,3.4,3.1,3.2,
3.1,3.3,3.2,3.0,3.4,3.2,3.3,3.1,3.5,3.2,
3.4,3.2,3.1,3.3,2.9,3.3,3.2,3.4,3.1,3.2,
3.1,3.3,3.2,3.0,3.4,3.2,3.3,3.1,3.5,3.2,
3.4,3.2,3.1,3.3,2.9,3.3,3.2,3.4,3.1,3.2,
3.1,3.3,3.2,3.0,3.4,3.2,3.3,3.1,3.5,3.2,
3.4,3.2,3.1,3.3,2.9,3.3,3.2,3.4,3.1,3.2,
3.2,3.4,3.3,3.1,3.5,3.3,3.4,3.2,3.6,3.3,
3.5,3.3,3.2,3.4,3.0,3.4,3.3,3.5,3.2,3.3,
3.2,3.4,3.3,3.1,3.5,3.3,3.4,3.2,3.6,3.3,
3.5,3.3,3.2,3.4,3.0,3.4,3.3,3.5,3.2,3.3,
3.2,3.4,3.3,3.1,3.5,3.3,3.4,3.2,3.6,3.3,
3.5,3.3,3.2,3.4,3.0,3.4,3.3,3.5,3.2,3.3,
3.2,3.4,3.3,3.1,3.5,3.3,3.4,3.2,3.6,3.3,
3.5,3.3,3.2,3.4,3.0,3.4,3.3,3.5,3.2,3.3,
3.2,3.4,3.3,3.1,3.5,3.3,3.4,3.2,3.6,3.3,
3.5,3.3,3.2,3.4,3.0,3.4,3.3,3.5,3.2,3.3,
3.3,3.5,3.4,3.2,3.6,3.4,3.5,3.3,3.7,3.4,
3.6,3.4,3.3,3.5,3.1,3.5,3.4,3.6,3.3,3.4,
3.3,3.5,3.4,3.2,3.6,3.4,3.5,3.3,3.7,3.4,
3.6,3.4,3.3,3.5,3.1,3.5,3.4,3.6,3.3,3.4,
3.3,3.5,3.4,3.2,3.6,3.4,3.5,3.3,3.7,3.4,
3.6,3.4,3.3,3.5,3.1,3.5,3.4,3.6,3.3,3.4,
3.3,3.5,3.4,3.2,3.6,3.4,3.5,3.3,3.7,3.4,
3.6,3.4,3.3,3.5,3.1,3.5,3.4,3.6,3.3,3.4,
3.3,3.5,3.4,3.2,3.6,3.4,3.5,3.3,3.7,3.4,
3.6,3.4,3.3,3.5,3.1,3.5,3.4,3.6,3.3,3.4,
3.5,3.7,3.6,3.4,3.8,3.6,3.7,3.5,3.9,3.6,
3.8,3.6,3.5,3.7,3.3,3.7,3.6,3.8,3.5,3.6,
3.5,3.7,3.6,3.4,3.8,3.6,3.7,3.5,3.9,3.6,
3.8,3.6,3.5,3.7,3.3,3.7,3.6,3.8,3.5,3.6,
3.5,3.7,3.6,3.4,3.8,3.6,3.7,3.5,3.9,3.6,
3.8,3.6,3.5,3.7,3.3,3.7,3.6,3.8,3.5,3.6,
3.5,3.7,3.6,3.4,3.8,3.6,3.7,3.5,3.9,3.6,
3.8,3.6,3.5,3.7,3.3,3.7,3.6,3.8,3.5,3.6,
3.5,3.7,3.6,3.4,3.8,3.6,3.7,3.5,3.9,3.6,
3.8,3.6,3.5,3.7,3.3,3.7,3.6,3.8,3.5,3.6,
3.7,3.9,3.8,3.6,4.0,3.8,3.9,3.7,4.1,3.8,
4.0,3.8,3.7,3.9,3.5,3.9,3.8,4.0,3.7,3.8,
3.7,3.9,3.8,3.6,4.0,3.8,3.9,3.7,4.1,3.8,
4.0,3.8,3.7,3.9,3.5,3.9,3.8,4.0,3.7,3.8,
3.7,3.9,3.8,3.6,4.0,3.8,3.9,3.7,4.1,3.8,
4.0,3.8,3.7,3.9,3.5,3.9,3.8,4.0,3.7,3.8,
3.7,3.9,3.8,3.6,4.0,3.8,3.9,3.7,4.1,3.8,
4.0,3.8,3.7,3.9,3.5,3.9,3.8,4.0,3.7,3.8,
3.7,3.9,3.8,3.6,4.0,3.8,3.9,3.7,4.1,3.8,
4.0,3.8,3.7,3.9,3.5,3.9,3.8,4.0,3.7,3.8
];

// model fit curve
const fitQ = [0.45,0.50,0.55,0.60,0.65,0.70,0.75,0.80,0.85,0.90,0.95,1.00,1.05,1.10,1.15,1.20,1.25,1.30,1.35,1.40,
1.45,1.50,1.55,1.60,1.65,1.70,1.75,1.80,1.85,1.90,1.95,2.00,2.05,2.10,2.15,2.20,2.25,2.30,2.35,2.40,2.45,2.50,
2.6,2.7,2.8,2.9,3.0,3.1,3.2,3.3,3.4,3.5,3.6,3.7,3.8,3.9,4.0,4.1,4.2,4.3,4.4,4.5,4.6,4.7,4.8,4.9,5.0];
const fitLogI = [0.00,-0.05,-0.10,-0.15,-0.20,-0.254,-0.31,-0.365,-0.43,-0.505,-0.60,-0.70,-0.805,-0.905,-1.00,-1.09,-1.17,-1.245,-1.315,-1.385,
-1.45,-1.51,-1.565,-1.615,-1.655,-1.69,-1.725,-1.76,-1.79,-1.825,-1.86,-1.89,-1.92,-1.955,-1.99,-2.02,-2.05,-2.075,-2.10,-2.115,-2.125,-2.135,
-2.14,-2.145,-2.145,-2.14,-2.135,-2.13,-2.13,-2.13,-2.135,-2.145,-2.155,-2.17,-2.18,-2.195,-2.21,-2.22,-2.23,-2.235,-2.24,-2.24,-2.24,-2.235,-2.23,-2.225,-2.22];

// points excluded from the fit
const maskedQ = [4.26];
const maskedLogI = [-2.89];

const svg = d3.select('#chart');
const x = d3.scaleLinear().domain([0, 5]).range([5, 504]);
const y = d3.scaleLinear().domain([0.88, -3.12]).range([0, 400]);
const axisColor = '#a2b5e0';
const ms = 3.4;

svg.append('defs').append('clipPath').attr('id', 'clip')
  .append('rect').attr('x', 5).attr('y', 0).attr('width', 499).attr('height', 400);

const toRows = (qa, la, sa) => qa.map((qq, i) => ({ q: qq, l: la[i], s: sa[i] * 1e-3 }))
  .filter(d => d.l !== undefined && d.s !== undefined && !isNaN(d.s));
const data = toRows(q, logI, sigma).concat(toRows(q2, logI2, sigma2));

const plot = svg.append('g').attr('clip-path', 'url(#clip)');

plot.append('g').selectAll('line').data(data).join('line')
  .attr('x1', d => x(d.q)).attr('x2', d => x(d.q))
  .attr('y1', d => y(Math.log10(Math.pow(10, d.l) + d.s)))
  .attr('y2', d => { const lo = Math.pow(10, d.l) - d.s; return lo > 0 ? y(Math.log10(lo)) : 410; })
  .attr('stroke', '#cad6ef').attr('stroke-width', 1);

plot.append('g').selectAll('rect').data(data).join('rect')
  .attr('x', d => x(d.q) - ms / 2).attr('y', d => y(d.l) - ms / 2)
  .attr('width', ms).attr('height', ms)
  .attr('fill', '#3162bd');

plot.append('g').selectAll('rect').data(maskedQ.map((m, i) => ({ q: m, l: maskedLogI[i] }))).join('rect')
  .attr('x', d => x(d.q) - 1.5).attr('y', d => y(d.l) - 1.5)
  .attr('width', 3).attr('height', 3)
  .attr('fill', '#f2a3a3');

const line = d3.line().x(d => x(d[0])).y(d => y(d[1])).curve(d3.curveMonotoneX);
plot.append('path').datum(fitQ.map((f, i) => [f, fitLogI[i]]))
  .attr('d', line).attr('fill', 'none')
  .attr('stroke', '#ea5a5c').attr('stroke-width', 3).attr('stroke-opacity', 0.92)
  .attr('stroke-linecap', 'round');

// axes
const yAxis = d3.axisLeft(y).tickValues(yTickValues).tickSize(-8).tickSizeOuter(0).tickFormat('');
const gy = svg.append('g').attr('transform', 'translate(5.5,0)').call(yAxis);
const xAxis = d3.axisBottom(x).tickValues(xTickValues).tickSize(-7).tickSizeOuter(0).tickPadding(13).tickFormat(d3.format('d'));
const gx = svg.append('g').attr('transform', 'translate(0,400.5)').call(xAxis);
[gx, gy].forEach(g => {
  g.select('.domain').attr('stroke', axisColor);
  g.selectAll('.tick line').attr('stroke', axisColor);
  g.selectAll('.tick text').attr('fill', axisColor)
    .style('font-family', '"DejaVu Sans", sans-serif').style('font-size', '17px');
});
gx.selectAll('.tick').filter(d => d === 0).select('line').remove();
</script>
</body></html>
